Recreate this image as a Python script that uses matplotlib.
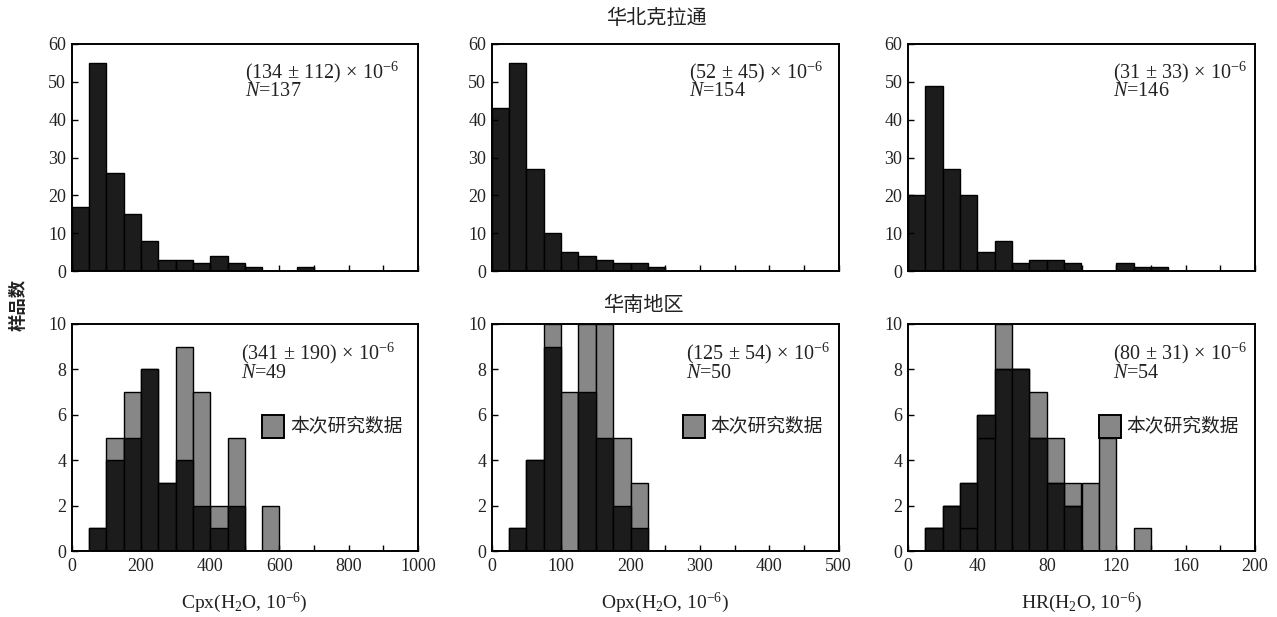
import numpy as np
import matplotlib
matplotlib.use("Agg")
import matplotlib.pyplot as plt
from matplotlib.patches import Rectangle

plt.rcParams['font.family'] = ['Liberation Serif', 'Noto Sans CJK SC']
plt.rcParams['mathtext.fontset'] = 'custom'
plt.rcParams['mathtext.rm'] = 'Liberation Serif'
plt.rcParams['mathtext.it'] = 'Liberation Serif:italic'
plt.rcParams['mathtext.sf'] = 'Liberation Serif'

# ---------------- data ----------------
# North China Craton (top row)
cpx_n_bin = 50
cpx_n_counts = [17, 55, 26, 15, 8, 3, 3, 2, 4, 2, 1, 0, 0, 1]
opx_n_bin = 25
opx_n_counts = [43, 55, 27, 10, 5, 4, 3, 2, 2, 1]
hr_n_bin = 10
hr_n_counts = [20, 49, 27, 20, 5, 8, 2, 3, 3, 2, 0, 0, 2, 1, 1]

# South China (bottom row): literature (black, two stacked parts) + this study (grey)
cpx_s_bin = 50
cpx_s_lit = [0, 1, 4, 5, 8, 3, 4, 2, 1, 2, 0, 0]
cpx_s_new = [0, 0, 1, 2, 0, 0, 5, 5, 1, 3, 0, 2]
opx_s_bin = 25
opx_s_lit = [0, 1, 4, 9, 0, 7, 5, 2, 1]
opx_s_new = [0, 0, 0, 1, 7, 3, 5, 3, 2]
hr_s_bin = 10
hr_s_lit_a = [0, 1, 2, 1, 5, 8, 8, 5, 3, 2, 0, 0, 0, 0]
hr_s_lit_b = [0, 0, 0, 2, 1, 0, 0, 0, 0, 0, 0, 0, 0, 0]
hr_s_new = [0, 0, 0, 0, 0, 2, 0, 2, 2, 1, 3, 5, 0, 1]

PM = r"$\,\pm\,$"
TM = r"$\,\times\,$"
stats_n = ["(134" + PM + "112)" + TM + "10$^{-6}$",
           "(52" + PM + "45)" + TM + "10$^{-6}$",
           "(31" + PM + "33)" + TM + "10$^{-6}$"]
n_n = ["$N$=137", "$N$=154", "$N$=146"]
stats_s = ["(341" + PM + "190)" + TM + "10$^{-6}$",
           "(125" + PM + "54)" + TM + "10$^{-6}$",
           "(80" + PM + "31)" + TM + "10$^{-6}$"]
n_s = ["$N$=49", "$N$=50", "$N$=54"]
xlabels = ["Cpx(H$_2$O, 10$^{-6}$)", "Opx(H$_2$O, 10$^{-6}$)", "HR(H$_2$O, 10$^{-6}$)"]
xlims = [1000, 500, 200]
xmajor = [200, 100, 40]
xminor = [100, 50, 20]
title_n = "华北克拉通"
title_s = "华南地区"
ylabel = "样品数"
legend_label = "本次研究数据"

BLACK = "#1c1c1c"
GREY = "#878787"
EDGE = "black"
TXT = "#222222"

W, H = 1277, 617
fig = plt.figure(figsize=(W / 100, H / 100), dpi=100)

lefts = [71.7, 491.7, 908]
widths = [346.3, 347, 347]
top_row = (271, 44)
bot_row = (551, 324)


def make_ax(i, row):
    b, t = row
    return fig.add_axes([lefts[i] / W, 1 - b / H, widths[i] / W, (b - t) / H])


def style(ax, i, ymax, ystep, show_xlabels):
    ax.set_xlim(0, xlims[i])
    ax.set_ylim(0, ymax)
    ax.set_yticks(np.arange(0, ymax + 1, ystep))
    ax.set_xticks(np.arange(0, xlims[i] + 1, xmajor[i]))
    ax.set_xticks(np.arange(0, xlims[i] + 1, xminor[i]), minor=True)
    ax.tick_params(axis='both', which='both', direction='in', length=4, width=1,
                   top=False, right=False, labelsize=13, pad=5, labelcolor=TXT)
    ax.tick_params(axis='y', pad=4)
    if not show_xlabels:
        ax.tick_params(axis='x', which='both', labelbottom=False)
    for s in ax.spines.values():
        s.set_linewidth(1.4)


def edges(binw, n):
    return np.arange(n) * binw


# ---- top row ----
top_data = [(cpx_n_bin, cpx_n_counts), (opx_n_bin, opx_n_counts), (hr_n_bin, hr_n_counts)]
text_x_top = [0.50, 0.57, 0.59]
for i, (bw, counts) in enumerate(top_data):
    ax = make_ax(i, top_row)
    ax.bar(edges(bw, len(counts)), counts, width=bw, align='edge', color=BLACK,
           edgecolor=EDGE, linewidth=1.0)
    style(ax, i, 60, 10, False)
    ax.text(text_x_top[i], 0.877, stats_n[i], transform=ax.transAxes, fontsize=14.5,
            va='center', ha='left', color=TXT)
    ax.text(text_x_top[i], 0.79, n_n[i], transform=ax.transAxes, fontsize=14.5,
            va='center', ha='left', color=TXT)

# ---- bottom row ----
text_x_bot = [0.49, 0.56, 0.59]
bot_specs = [
    (cpx_s_bin, [cpx_s_lit], cpx_s_new),
    (opx_s_bin, [opx_s_lit], opx_s_new),
    (hr_s_bin, [hr_s_lit_a, hr_s_lit_b], hr_s_new),
]
for i, (bw, lit_parts, new) in enumerate(bot_specs):
    ax = make_ax(i, bot_row)
    n = len(new)
    x = edges(bw, n)
    lit_total = np.sum(np.array(lit_parts), axis=0)
    total = lit_total + np.array(new)
    ax.bar(x, total, width=bw, align='edge', color=GREY, edgecolor=EDGE, linewidth=1.0)
    bottom = np.zeros(n)
    for part in lit_parts:
        part = np.array(part)
        ax.bar(x, part, bottom=bottom, width=bw, align='edge', color=BLACK,
               edgecolor=EDGE, linewidth=1.0)
        bottom = bottom + part
    style(ax, i, 10, 2, True)
    ax.text(text_x_bot[i], 0.87, stats_s[i], transform=ax.transAxes, fontsize=14.5,
            va='center', ha='left', color=TXT)
    ax.text(text_x_bot[i], 0.78, n_s[i], transform=ax.transAxes, fontsize=14.5,
            va='center', ha='left', color=TXT)
    # legend box
    ax.add_patch(Rectangle((0.55, 0.50), 0.064, 0.097, transform=ax.transAxes,
                           facecolor=GREY, edgecolor=EDGE, linewidth=1.4, zorder=5))
    ax.text(0.63, 0.55, legend_label, transform=ax.transAxes, fontsize=13.5,
            family=['Noto Sans CJK SC'], va='center', ha='left', color=TXT)
    cx = (lefts[i] + widths[i] / 2) / W
    fig.text(cx, 1 - 603 / H, xlabels[i], ha='center', va='center', fontsize=14,
             color=TXT)

fig.text(656 / W, 1 - 18 / H, title_n, ha='center', va='center', fontsize=14.5,
         family=['Noto Sans CJK SC'], color=TXT)
fig.text(643 / W, 1 - 305 / H, title_s, ha='center', va='center', fontsize=14.5,
         family=['Noto Sans CJK SC'], color=TXT)
fig.text(19 / W, 1 - 305 / H, ylabel, ha='center', va='center', fontsize=12.5,
         rotation=90, family=['Noto Sans CJK SC'], fontweight='bold', color=TXT)

fig.savefig("out.png", dpi=100)
